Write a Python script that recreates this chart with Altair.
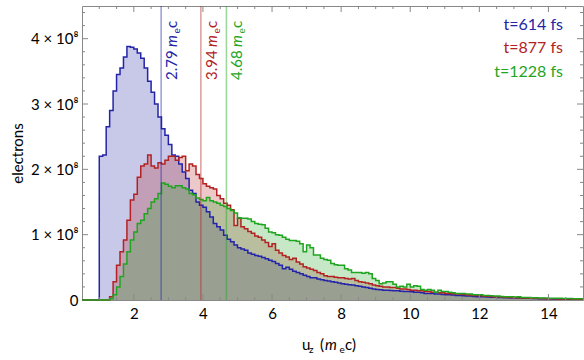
import altair as alt
import pandas as pd

# ---------------- data ----------------
X_START = 0.5
BIN_WIDTH = 0.1
X_END = 15.0

series_names = ["t=614 fs", "t=877 fs", "t=1228 fs"]
series_colors = ["#2424a8", "#b22222", "#1fa51f"]

# electrons per bin (units of 1e8); bins start at 0.5, 0.6, ..., 14.9
blue_values = [
    0, 0, 0, 0, 0,
    2.20, 2.22, 2.65, 2.90, 3.20, 3.45, 3.55, 3.72, 3.88, 3.87,
    3.84, 3.78, 3.70, 3.55, 3.35, 3.18, 3.00, 2.80, 2.62, 2.52,
    2.38, 2.22, 2.20, 2.08, 1.96, 1.86, 1.68, 1.63, 1.50, 1.45,
    1.42, 1.35, 1.27, 1.17, 1.12, 1.07, 0.99, 0.93, 0.89, 0.84,
    0.80, 0.78, 0.76, 0.72, 0.70, 0.68, 0.67, 0.65, 0.63, 0.61,
    0.59, 0.56, 0.53, 0.48, 0.50, 0.47, 0.44, 0.42, 0.40, 0.38,
    0.36, 0.34, 0.34, 0.32, 0.31, 0.30, 0.29, 0.28, 0.27, 0.26,
    0.25, 0.24, 0.235, 0.23, 0.22, 0.21, 0.20, 0.19, 0.18, 0.17,
    0.16, 0.155, 0.15, 0.15, 0.145, 0.14, 0.14, 0.135, 0.13, 0.13,
    0.125, 0.12, 0.12, 0.11, 0.10, 0.10, 0.10, 0.09, 0.09, 0.085,
    0.08, 0.08, 0.075, 0.07, 0.07, 0.065, 0.06, 0.06, 0.055, 0.05,
    0.05, 0.048, 0.045, 0.042, 0.045, 0.04, 0.038, 0.035, 0.035, 0.03,
    0.03, 0.032, 0.028, 0.025, 0.025, 0.022, 0.022, 0.02, 0.02, 0.018,
    0.018, 0.016, 0.015, 0.015, 0.014, 0.013, 0.012, 0.012, 0.011, 0.01,
]
red_values = [
    0, 0, 0, 0, 0,
    0, 0, 0, 0.05, 0.28, 0.53, 0.74, 0.92, 1.22, 1.53,
    1.62, 1.88, 2.05, 2.08, 2.22, 2.05, 2.02, 2.10, 2.08, 2.14,
    2.20, 2.20, 2.14, 2.18, 2.20, 1.98, 2.08, 2.05, 1.92, 1.86,
    1.78, 1.74, 1.72, 1.70, 1.60, 1.55, 1.48, 1.45, 1.38, 1.14,
    1.25, 1.12, 1.09, 1.05, 1.02, 0.98, 0.96, 0.92, 0.88, 0.82,
    0.86, 0.76, 0.72, 0.68, 0.66, 0.62, 0.64, 0.58, 0.55, 0.51,
    0.49, 0.47, 0.45, 0.42, 0.40, 0.37, 0.36, 0.36, 0.35, 0.34,
    0.34, 0.33, 0.32, 0.33, 0.30, 0.28, 0.27, 0.26, 0.25, 0.23,
    0.22, 0.21, 0.20, 0.20, 0.19, 0.19, 0.18, 0.17, 0.17, 0.16,
    0.15, 0.15, 0.14, 0.14, 0.13, 0.13, 0.12, 0.12, 0.11, 0.11,
    0.10, 0.10, 0.095, 0.09, 0.09, 0.085, 0.08, 0.075, 0.07, 0.068,
    0.065, 0.06, 0.058, 0.055, 0.05, 0.05, 0.045, 0.042, 0.04, 0.038,
    0.035, 0.035, 0.032, 0.03, 0.028, 0.027, 0.025, 0.024, 0.022, 0.021,
    0.02, 0.019, 0.018, 0.017, 0.016, 0.015, 0.014, 0.013, 0.012, 0.011,
]
green_values = [
    0, 0, 0, 0, 0,
    0, 0, 0, 0.02, 0.08, 0.20, 0.36, 0.55, 0.74, 0.92,
    1.04, 1.17, 1.22, 1.32, 1.40, 1.50, 1.55, 1.63, 1.79, 1.77,
    1.74, 1.72, 1.75, 1.75, 1.72, 1.70, 1.63, 1.61, 1.56, 1.54,
    1.52, 1.57, 1.52, 1.50, 1.48, 1.45, 1.43, 1.40, 1.37, 1.33,
    1.26, 1.25, 1.25, 1.24, 1.20, 1.17, 1.16, 1.15, 1.10, 1.04,
    1.03, 1.00, 0.99, 0.96, 0.93, 0.91, 0.91, 0.90, 0.86, 0.74,
    0.84, 0.80, 0.69, 0.69, 0.64, 0.62, 0.61, 0.56, 0.54, 0.53,
    0.53, 0.48, 0.46, 0.42, 0.42, 0.42, 0.41, 0.42, 0.40, 0.33,
    0.30, 0.25, 0.26, 0.28, 0.28, 0.24, 0.20, 0.21, 0.20, 0.24,
    0.20, 0.22, 0.21, 0.16, 0.15, 0.16, 0.15, 0.12, 0.15, 0.13,
    0.13, 0.12, 0.11, 0.10, 0.10, 0.10, 0.09, 0.09, 0.08, 0.08,
    0.08, 0.07, 0.07, 0.065, 0.06, 0.06, 0.055, 0.05, 0.05, 0.048,
    0.045, 0.05, 0.04, 0.04, 0.038, 0.035, 0.035, 0.032, 0.03, 0.03,
    0.028, 0.027, 0.025, 0.025, 0.024, 0.022, 0.022, 0.02, 0.02, 0.02,
]

median_values = [2.79, 3.94, 4.68]
median_labels = ["2.79", "3.94", "4.68"]

x_tick_major = [2, 4, 6, 8, 10, 12, 14]
x_tick_minor = [1, 1.5, 2.5, 3, 3.5, 4.5, 5, 5.5, 6.5, 7, 7.5, 8.5, 9, 9.5,
                10.5, 11, 11.5, 12.5, 13, 13.5, 14.5]
y_tick_major = [1, 2, 3, 4]
y_tick_minor = [0.2, 0.4, 0.6, 0.8, 1.2, 1.4, 1.6, 1.8, 2.2, 2.4, 2.6, 2.8,
                3.2, 3.4, 3.6, 3.8, 4.2, 4.4]

# ---------------- build table ----------------
rows = []
for name, vals in zip(series_names, [blue_values, red_values, green_values]):
    for i, v in enumerate(vals):
        rows.append({"x": round(X_START + i * BIN_WIDTH, 2), "v": v, "s": name})
    rows.append({"x": X_END, "v": vals[-1], "s": name})
df = pd.DataFrame(rows)

df_med = pd.DataFrame({"x": median_values, "num": median_labels, "s": series_names,
                       "m": ["m"] * 3, "e": ["e"] * 3, "c": ["c"] * 3})

W, H = 501, 294
FONT = "Lato"

x_axis = alt.Axis(values=x_tick_major, format="d", ticks=False, domain=False, grid=False,
                  labelFont=FONT, labelFontSize=15, labelColor="#000", labelPadding=6,
                  title=None)
y_axis = alt.Axis(values=[0, 1, 2, 3, 4],
                  labelExpr="datum.value == 0 ? '0' : datum.value + ' × 10⁸'",
                  ticks=False, domain=False, grid=False,
                  labelFont=FONT, labelFontSize=15, labelColor="#000", labelPadding=4,
                  title="electrons", titleFont=FONT, titleFontSize=15,
                  titleFontWeight="normal", titleColor="#000",
                  titleX=-65, titleY=147, titleAlign="center", titleBaseline="middle")

X = alt.X("x:Q", scale=alt.Scale(domain=[0.5, 15], nice=False, zero=False), axis=x_axis)
Y = alt.Y("v:Q", scale=alt.Scale(domain=[0, 4.5], nice=False), axis=y_axis, stack=None)
C = alt.Color("s:N", scale=alt.Scale(domain=series_names, range=series_colors), legend=None)

base = alt.Chart(df)
areas = base.mark_area(interpolate="step-after", fillOpacity=0.25).encode(x=X, y=Y, color=C)
lines = base.mark_line(interpolate="step-after", strokeWidth=1.5).encode(x=X, y=Y, color=C)

med_rules = alt.Chart(df_med).mark_rule(strokeWidth=1.5, opacity=0.45).encode(x=X, color=C)

lab_num = alt.Chart(df_med).mark_text(angle=270, align="left", baseline="alphabetic",
                                      font=FONT, fontSize=15, dy=16).encode(
    x=X, y=alt.value(74), text="num:N", color=C)
lab_m = alt.Chart(df_med).mark_text(angle=270, align="left", baseline="alphabetic",
                                    font=FONT, fontSize=15, fontStyle="italic", dy=16).encode(
    x=X, y=alt.value(41), text="m:N", color=C)
lab_e = alt.Chart(df_med).mark_text(angle=270, align="left", baseline="alphabetic",
                                    font=FONT, fontSize=10, dy=19).encode(
    x=X, y=alt.value(27.5), text="e:N", color=C)
lab_c = alt.Chart(df_med).mark_text(angle=270, align="left", baseline="alphabetic",
                                    font=FONT, fontSize=15, dy=16).encode(
    x=X, y=alt.value(22), text="c:N", color=C)

TICK = "#888"
xt_major = pd.DataFrame({"x": x_tick_major})
xt_minor = pd.DataFrame({"x": x_tick_minor})
yt_major = pd.DataFrame({"v": y_tick_major})
yt_minor = pd.DataFrame({"v": y_tick_minor})

tick_layers = [
    alt.Chart(xt_major).mark_rule(color=TICK).encode(x=X, y=alt.value(H), y2=alt.value(H - 6)),
    alt.Chart(xt_major).mark_rule(color=TICK).encode(x=X, y=alt.value(0), y2=alt.value(6)),
    alt.Chart(xt_minor).mark_rule(color=TICK).encode(x=X, y=alt.value(H), y2=alt.value(H - 3)),
    alt.Chart(xt_minor).mark_rule(color=TICK).encode(x=X, y=alt.value(0), y2=alt.value(3)),
    alt.Chart(yt_major).mark_rule(color=TICK).encode(y=Y, x=alt.value(0), x2=alt.value(6)),
    alt.Chart(yt_major).mark_rule(color=TICK).encode(y=Y, x=alt.value(W), x2=alt.value(W - 6)),
    alt.Chart(yt_minor).mark_rule(color=TICK).encode(y=Y, x=alt.value(0), x2=alt.value(3)),
    alt.Chart(yt_minor).mark_rule(color=TICK).encode(y=Y, x=alt.value(W), x2=alt.value(W - 3)),
]

legend_layers = []
for name, col, yy in zip(series_names, series_colors, [19, 42, 66]):
    legend_layers.append(
        alt.Chart(pd.DataFrame({"s": [name]})).mark_text(
            align="right", baseline="middle", font=FONT, fontSize=16, color=col).encode(
            x=alt.value(481), y=alt.value(yy), text="s:N"))


def piece(text, x, y, size=15, style="normal"):
    return alt.Chart(pd.DataFrame({"t": [text]})).mark_text(
        align="left", baseline="alphabetic", font=FONT, fontSize=size, fontStyle=style,
        color="#000").encode(x=alt.value(x), y=alt.value(y), text="t:N")


xtitle = [
    piece("u", 220, 344),
    piece("z", 227, 347, size=10),
    piece("(", 238, 344),
    piece("m", 243, 344, style="italic"),
    piece("e", 257.5, 347, size=10),
    piece("c)", 263, 344),
]

chart = alt.layer(
    areas, lines, med_rules, lab_num, lab_m, lab_e, lab_c,
    *tick_layers, *legend_layers, *xtitle
).properties(
    width=W, height=H,
    autosize=alt.AutoSizeParams(type="none"),
    padding={"left": 82, "top": 6, "right": 1, "bottom": 60},
).configure_view(stroke="#888", strokeWidth=1)

chart.save("out.html", embed_options={"renderer": "svg", "actions": False})
